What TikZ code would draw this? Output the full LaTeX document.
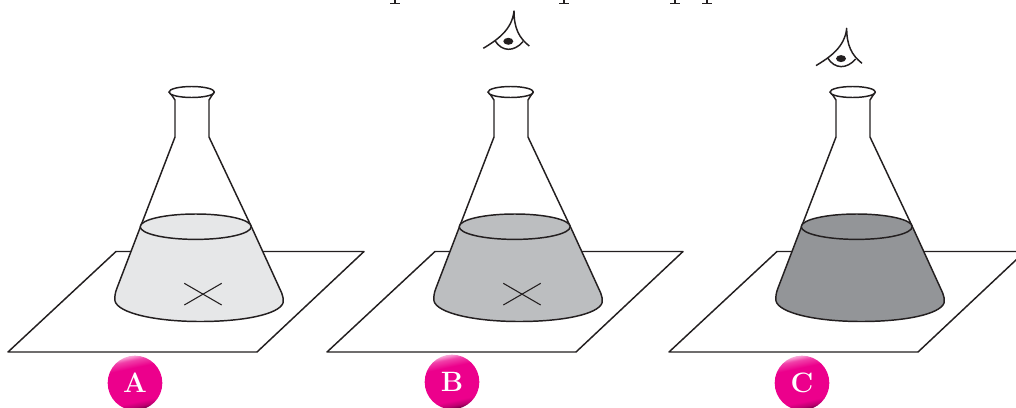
\documentclass[tikz,border=0pt]{standalone}
\usepackage{xcolor}
\usepackage{tikz}
\definecolor{xink}{HTML}{231F20}
\definecolor{xpale}{HTML}{E6E7E8}
\definecolor{xmid}{HTML}{BCBEC0}
\definecolor{xdark}{HTML}{939598}
\definecolor{xmagenta}{HTML}{EC008C}
\pgfdeclareverticalshading{badgeball}{100bp}{
  color(0bp)=(xmagenta!40!black); color(25bp)=(xmagenta!45!black); color(28.5bp)=(xmagenta!80!black);
  color(33bp)=(xmagenta); color(64bp)=(xmagenta); color(71bp)=(xmagenta!75!white);
  color(75bp)=(xmagenta!35!white); color(100bp)=(xmagenta!35!white)}

\begin{document}
\begin{tikzpicture}[
    x=0.75pt, y=-0.75pt,
    line join=round,
    outline/.style={draw=xink, line width=1.1pt},
    sheet/.style={outline, fill=white},
    badge/.style={circle, minimum size=41pt, inner sep=0pt, shading=badgeball, shading angle=12,
        font=\fontsize{21}{24}\selectfont\bfseries, text=white},
    flask/.pic={
        \fill[white] (175,137) -- (175,100) -- (209,100) -- (209,137) -- (252,228) -- (140,228) -- cycle;
        \draw[outline] (175,137) -- (175,100) .. controls (174,97) and (171,95) .. (169,92);
        \draw[outline] (209,137) -- (209,100) .. controls (210,97) and (213,95) .. (214.4,92);
        \draw[outline, fill=white] (191.7,92) ellipse (22.7 and 5.5);
        \draw[outline] (140,228) -- (175,137);
        \draw[outline] (252,228) -- (209,137);
        \draw[outline, fill=#1] (140,228) -- (117,288) .. controls (115,293) and (114.5,297) .. (115,301)
            .. controls (118,313) and (155,321.5) .. (200,321.5)
            .. controls (245,321.5) and (279,314) .. (283,303)
            .. controls (283.5,299) and (283,296) .. (281.7,293) -- (252,228);
        \draw[outline, fill=#1] (195.7,226.7) ellipse (55.5 and 12.7);
    },
    mark cross/.pic={
        \draw[xink, line width=0.8pt] (184.3,283.3) -- (221.7,305);
        \draw[xink, line width=0.8pt] (184.3,305) -- (221.7,283.3);
    },
    eye/.pic={
        \draw[outline] (483.3,48.3) .. controls (497,40) and (512,30) .. (514,11)
            .. controls (514,28) and (519,38) .. (529.3,46);
        \draw[outline] (495,40.7) .. controls (502,52) and (514,52) .. (523,41.7);
        \fill[xink] (508.3,41.3) ellipse (5 and 3.5);
    },
]

\clip (0,0) rectangle (1016,407);

% Sheets
\draw[sheet] (116,251.5) -- (364,251.5) -- (257,352) -- (8,352) -- cycle;
\draw[sheet] (435,251.5) -- (683,251.5) -- (576,352) -- (327,352) -- cycle;
\draw[sheet] (777,251.5) -- (1025,251.5) -- (918,352) -- (669,352) -- cycle;

% Flasks
\pic at (0,0) {flask=xpale};
\pic at (319,0) {flask=xmid};
\pic at (661,0) {flask=xdark};

% Crosses
\pic at (0,0) {mark cross};
\pic at (319,0) {mark cross};

% Eyes
\pic at (0,0) {eye};
\pic at (332.7,17.3) {eye};

% Labels
\node[badge] (badgeA) at (135,383) {A};
\node[badge] (badgeB) at (452,382) {B};
\node[badge] (badgeC) at (802,383) {C};

% Cut off line of print at the top edge
\foreach \xpos in {395,564,675,707} {
    \draw[xink, line width=1.8pt] (\xpos,0) -- (\xpos,3.5);
    \draw[xink, line width=0.7pt] (\xpos-5,3.8) -- (\xpos+5,3.8);
}

\end{tikzpicture}
\end{document}
